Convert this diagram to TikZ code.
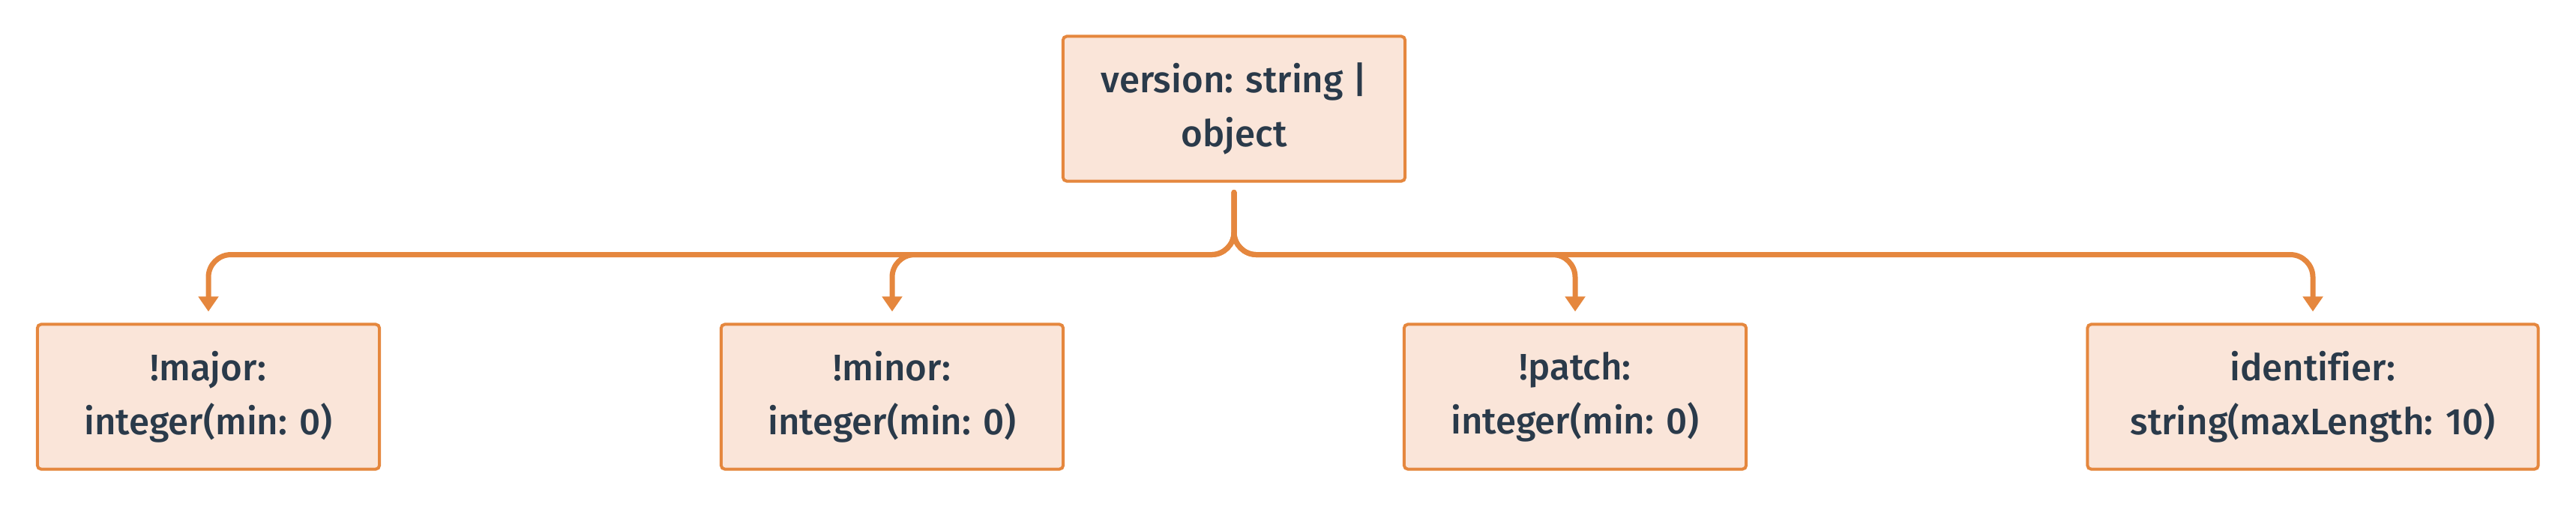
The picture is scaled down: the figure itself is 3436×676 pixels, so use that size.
\documentclass[tikz,border=0pt]{standalone}
\usepackage{fontspec}
\setmainfont{Fira Sans}[UprightFont=* Medium, Ligatures=NoCommon]
\usepackage{tikz}
\usetikzlibrary{arrows.meta}
\definecolor{edgeorange}{RGB}{229,135,62}
\definecolor{boxfill}{RGB}{250,229,217}
\definecolor{textslate}{RGB}{42,58,74}

\tikzset{
  fieldbox/.style={draw=edgeorange, fill=boxfill, line width=0.04cm,
    rounded corners=0.05cm, align=center, text=textslate,
    font=\fontsize{14}{20.5}\selectfont,
    minimum height=1.93cm, inner sep=0pt},
  flowedge/.style={draw=edgeorange, line width=0.07cm, line cap=round,
    rounded corners=0.3cm, -{Triangle[width=0.26cm, length=0.2cm]}}
}

\begin{document}
\begin{tikzpicture}[x=0.01cm, y=0.01cm]

% ── Rahmen (3436 x 676) ──────────────────────────────────────────────
\useasboundingbox (0,0) rectangle (3436,676);

% ── Wurzel ───────────────────────────────────────────────────────────
\node[fieldbox, minimum width=4.56cm] (ver) at (1646,531)
  {version: string |\\object};

% ── Felder + Kanten ──────────────────────────────────────────────────
\foreach \name/\xc/\bw/\txt in {
   major/278/4.56/{!major:\\integer(min: 0)},
   minor/1190/4.56/{!minor:\\integer(min: 0)},
   patch/2101/4.56/{!patch:\\integer(min: 0)},
   ident/3085/6.01/{identifier:\\string(maxLength: 10)}}
{
  \node[fieldbox, minimum width=\bw cm] (\name) at (\xc,147) {\txt};

  % Kante — Stamm bis y=338, dann -| zum Feld
  \draw[flowedge] ([yshift=-0.13cm]ver.south) -- ++(0,-83)
    -| ([yshift=0.15cm]\name.north);
}

\end{tikzpicture}
\end{document}
